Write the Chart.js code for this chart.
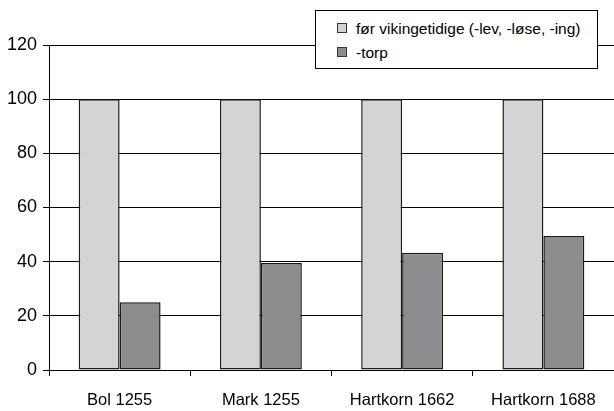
<!DOCTYPE html>
<html>
<head>
<meta charset="utf-8">
<script src="https://cdn.jsdelivr.net/npm/chart.js@4/dist/chart.umd.min.js"></script>
<style>
  html, body { margin: 0; padding: 0; background: #fff; }
  #wrap { position: relative; width: 614px; height: 411px; }
  #legend {
    position: absolute; left: 315px; top: 10px; width: 281px; height: 57px;
    background: #fff; border: 1px solid #000;
    font-family: "Liberation Sans", Arial, sans-serif; font-size: 15.5px; color: #000;
  }
  .item { position: absolute; left: 21px; height: 18px; line-height: 18px; white-space: nowrap; }
  .item span.box { display: inline-block; width: 8px; height: 8px; border: 1px solid #333; margin-right: 9px; vertical-align: 1px; }
</style>
</head>
<body>
<div id="wrap">
  <canvas id="myChart" width="614" height="411"></canvas>
  <div id="legend"></div>
</div>
<script>
const categories = ['Bol 1255', 'Mark 1255', 'Hartkorn 1662', 'Hartkorn 1688'];
const seriesNames = ['før vikingetidige (-lev, -løse, -ing)', '-torp'];
const earlyValues = [100, 100, 100, 100];
const torpValues = [25, 39.5, 43.3, 49.5];
const yTicks = [0, 20, 40, 60, 80, 100, 120];

const fills = ['#d3d4d6', '#8c8c8e'];

const ctx = document.getElementById('myChart');

const chartConfig = {
  type: 'bar',
  data: {
    labels: categories,
    datasets: [earlyValues, torpValues].map((vals, i) => ({
      label: seriesNames[i],
      data: vals,
      backgroundColor: fills[i],
      borderColor: '#1a1a1a',
      borderWidth: 1.5,
      borderSkipped: false,
      categoryPercentage: 0.58,
      barPercentage: 1.0
    }))
  },
  options: {
    responsive: false,
    animation: { duration: 0 },
    layout: { padding: { top: 45, right: 0, left: 0, bottom: 0 } },
    plugins: {
      legend: { display: false },
      tooltip: { enabled: false }
    },
    scales: {
      x: {
        grid: {
          offset: true,
          drawOnChartArea: false,
          drawTicks: true,
          tickLength: 6,
          color: '#000'
        },
        border: { color: '#000', width: 1 },
        ticks: {
          color: '#000',
          padding: 15,
          font: { family: '"Liberation Sans", Arial, sans-serif', size: 16.5 }
        },
        afterFit: (scale) => { scale.height = 41; }
      },
      y: {
        min: 0,
        max: 120,
        afterBuildTicks: (scale) => { scale.ticks = yTicks.map(v => ({ value: v })); },
        grid: {
          color: '#000',
          lineWidth: 1,
          drawTicks: true,
          tickLength: 6
        },
        border: { color: '#000', width: 1 },
        ticks: {
          color: '#000',
          padding: 6,
          font: { family: '"Liberation Sans", Arial, sans-serif', size: 18 }
        },
        afterFit: (scale) => { scale.width = 49; }
      }
    }
  }
};

const myChart = new Chart(ctx, chartConfig);

const legendEl = document.getElementById('legend');
seriesNames.forEach((name, i) => {
  const item = document.createElement('div');
  item.className = 'item';
  item.style.top = (i === 0 ? 9 : 33) + 'px';
  item.innerHTML = '<span class="box" style="background:' + fills[i] + '"></span>' + name;
  legendEl.appendChild(item);
});
</script>
</body>
</html>
